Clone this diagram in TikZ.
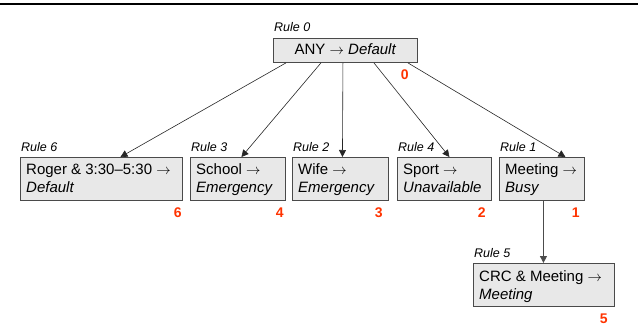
\documentclass[tikz,border=0pt]{standalone}
\usepackage{fontspec}
\setmainfont{Liberation Sans}
\usetikzlibrary{arrows.meta}
\definecolor{boxfill}{HTML}{E8E8E8}
\definecolor{boxline}{HTML}{4A4A4A}
\definecolor{numred}{HTML}{FF3300}
\newcommand\rarr{\ensuremath{\rightarrow}}
\tikzset{
  box/.style={draw=boxline, fill=boxfill, line width=0.9pt, inner sep=0pt},
  txt/.style={inner sep=0pt, font=\fontsize{15}{18}\selectfont},
  rulelbl/.style={inner sep=0pt, font=\fontsize{12.5}{14}\selectfont\itshape},
  num/.style={inner sep=0pt, text=numred, font=\fontsize{14}{16}\selectfont\bfseries},
  conn/.style={draw=black!85, line width=0.6pt, -{Triangle[length=7pt,width=7pt]}}
}
\newcommand\rulebox[9]{%
  \node[box, minimum width=#4pt, minimum height=43pt, anchor=north west] (#1) at (#2pt,-#3pt) {};
  \node[txt, anchor=base west] (#1a) at ([xshift=6pt,yshift=-18pt]#1.north west) {#5};
  \node[txt, anchor=base west] (#1b) at ([xshift=6pt,yshift=-36pt]#1.north west) {\itshape #6};
  \node[rulelbl, anchor=base west] (#1r) at ([xshift=1pt,yshift=6pt]#1.north west) {Rule #7};
  \node[num, anchor=base east] (#1n) at ([xshift=#9pt,yshift=-17pt]#1.south east) {#8};
}
\begin{document}
\begin{tikzpicture}[x=1pt,y=1pt]
\useasboundingbox (0,0) rectangle (638,-329);
\draw[line width=2pt] (0,-4) -- (638,-4);
% root
\node[box, minimum width=144pt, minimum height=24pt, anchor=north west] (root) at (273,-38) {};
\node[txt, anchor=base] (roott) at ([yshift=-17pt]root.north) {ANY \rarr{} \textit{Default}};
\node[rulelbl, anchor=base west] (rootr) at ([xshift=1pt,yshift=6pt]root.north west) {Rule 0};
\node[num, anchor=base east] (rootn) at ([xshift=-9pt,yshift=-17pt]root.south east) {0};
% row
\rulebox{rsix}{20}{157}{162}{Roger \& 3:30–5:30 \rarr}{Default}{6}{6}{-1}
\rulebox{rthree}{190}{157}{95}{School \rarr}{Emergency}{3}{4}{-2}
\rulebox{rtwo}{292}{157}{96}{Wife \rarr}{Emergency}{2}{3}{-6}
\rulebox{rfour}{397}{157}{94}{Sport \rarr}{Unavailable}{4}{2}{-6}
\rulebox{rone}{499}{157}{85}{Meeting \rarr}{Busy}{1}{1}{-5}
\rulebox{rfive}{473}{263}{141}{CRC \& Meeting \rarr}{Meeting}{5}{5}{-7}
% connectors
\draw[conn] ([xshift=-59.5pt]root.south) -- ([xshift=19pt]rsix.north);
\draw[conn] ([xshift=-24.5pt]root.south) -- ([xshift=3.5pt]rthree.north);
\draw[conn] ([xshift=-2.5pt]root.south) -- ([xshift=2pt]rtwo.north);
\draw[conn] ([xshift=28.5pt]root.south) -- ([xshift=5pt]rfour.north);
\draw[conn] ([xshift=62.5pt]root.south) -- ([xshift=23.5pt]rone.north);
\draw[conn, draw=black!70, line width=0.9pt] ([xshift=1.5pt]rone.south) -- ([xshift=-0.5pt]rfive.north);
\end{tikzpicture}
\end{document}
